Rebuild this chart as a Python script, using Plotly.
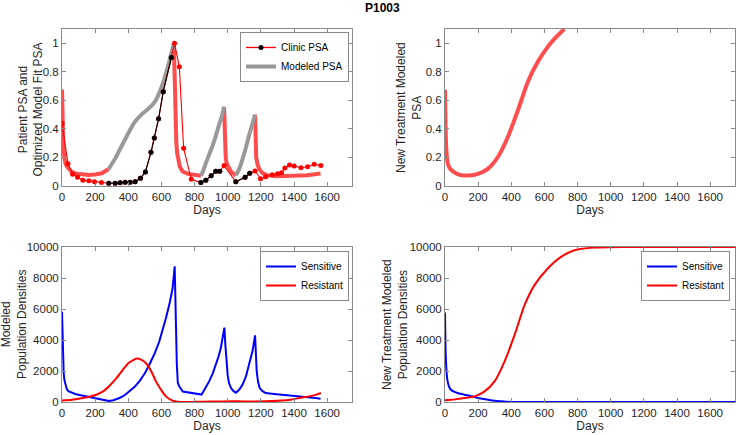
import plotly.graph_objects as go

# ---------------- data ----------------
off_periods = [(280, 675), (838, 978), (1049, 1165)]

clinic_days = [0, 36, 64, 94, 126, 162, 196, 238, 282, 321, 351, 381, 411, 441, 473, 503, 537, 557, 583, 611, 660, 679,
               708, 734, 780, 838, 868, 900, 928, 952, 978, 1049, 1105, 1133, 1165, 1198, 1229, 1269, 1301, 1325,
               1345, 1373, 1401, 1442, 1482, 1522, 1562]
clinic_psa = [0.44, 0.156, 0.083, 0.062, 0.04, 0.036, 0.03, 0.024, 0.019, 0.019, 0.023, 0.026, 0.026, 0.03, 0.054,
              0.098, 0.236, 0.336, 0.472, 0.661, 0.9, 1.0, 0.836, 0.264, 0.047, 0.024, 0.04, 0.072, 0.103, 0.103,
              0.143, 0.03, 0.061, 0.089, 0.105, 0.051, 0.065, 0.079, 0.086, 0.093, 0.126, 0.147, 0.14, 0.128, 0.135,
              0.152, 0.143]

model_days = [0, 4, 8, 14, 20, 30, 40, 60, 80, 120, 160, 200, 240, 280,
              320, 360, 400, 440, 480, 520, 560, 600, 640, 675,
              678, 681, 685, 690, 695, 700, 710, 720, 730, 760, 800, 838,
              850, 868, 888, 908, 928, 948, 965, 978,
              981, 984, 988, 993, 1000, 1020, 1049,
              1070, 1090, 1110, 1130, 1150, 1165,
              1168, 1172, 1180, 1190, 1210, 1240, 1300, 1400, 1480, 1560]
model_psa = [0.675, 0.4, 0.28, 0.2, 0.16, 0.135, 0.12, 0.098, 0.088, 0.08, 0.077, 0.08, 0.089, 0.117,
             0.19, 0.28, 0.37, 0.45, 0.5, 0.54, 0.59, 0.69, 0.84, 1.0,
             0.78, 0.58, 0.42, 0.3, 0.23, 0.19, 0.14, 0.115, 0.1, 0.085, 0.077, 0.072,
             0.1, 0.16, 0.22, 0.28, 0.35, 0.43, 0.49, 0.555,
             0.4, 0.28, 0.2, 0.16, 0.14, 0.1, 0.075,
             0.12, 0.19, 0.27, 0.36, 0.44, 0.5,
             0.3, 0.2, 0.15, 0.12, 0.09, 0.075, 0.068, 0.068, 0.075, 0.088]

new_days = [0, 3, 6, 10, 15, 20, 30, 40, 60, 80, 100, 140, 200, 260, 320, 380, 440, 500, 560, 620, 680, 720]
new_psa = [0.675, 0.42, 0.3, 0.22, 0.17, 0.145, 0.122, 0.11, 0.093, 0.082, 0.076, 0.073, 0.085, 0.122, 0.205,
           0.345, 0.53, 0.73, 0.87, 0.975, 1.055, 1.1]

sens_days = [0, 3, 6, 10, 14, 20, 28, 38, 56, 80, 106, 140, 160, 200, 240, 260, 284, 310, 347, 380, 407, 440, 467,
             500, 527, 560, 587, 610, 627, 650, 667, 680,
             684, 688, 693, 699, 708, 729, 768, 800, 842,
             860, 888, 910, 928, 945, 958, 970, 980,
             985, 992, 1000, 1008, 1020, 1035, 1050,
             1070, 1089, 1110, 1129, 1150, 1165,
             1169, 1175, 1183, 1193, 1210, 1229, 1280, 1329, 1380, 1430, 1480, 1530, 1560]
sens_pop = [5820, 3800, 2700, 1900, 1450, 1100, 860, 700, 600, 520, 450, 380, 350, 270, 190, 140, 60, 110, 260, 450,
            685, 1000, 1330, 1850, 2400, 3150, 3900, 4700, 5400, 6400, 7320, 8750,
            6000, 3470, 2400, 1220, 1000, 680, 600, 540, 480,
            800, 1330, 1850, 2400, 2950, 3470, 4100, 4800,
            3800, 2610, 1700, 1220, 900, 700, 600,
            800, 1110, 1650, 2400, 3300, 4300,
            3000, 1970, 1300, 900, 700, 580, 520, 470, 430, 400, 350, 257, 214]

res_days = [0, 60, 126, 170, 207, 250, 287, 330, 367, 400, 427, 450, 480, 507, 540, 567, 600, 627, 667, 700, 727,
            800, 900, 1028, 1100, 1229, 1300, 1380, 1430, 1490, 1530, 1562]
res_pop = [90, 150, 257, 350, 470, 700, 1050, 1550, 2080, 2500, 2680, 2800, 2720, 2500, 1950, 1330, 750, 364, 86, 20,
           0, 10, 30, 43, 40, 43, 80, 150, 257, 364, 460, 578]

new_sens_days = [0, 3, 8, 14, 20, 28, 40, 58, 80, 118, 160, 199, 230, 259, 300, 339, 370, 400, 600, 1000, 1400, 1750]
new_sens_pop = [5780, 3500, 2180, 1450, 1150, 900, 750, 650, 560, 470, 380, 257, 200, 150, 80, 43, 15, 0, 0, 0, 0, 0]

new_res_days = [0, 60, 118, 179, 239, 299, 359, 420, 480, 540, 620, 700, 781, 901, 1000, 1142, 1400, 1750]
new_res_pop = [107, 170, 257, 364, 685, 1330, 2610, 4330, 6250, 7540, 8610, 9360, 9790, 9960, 9990, 10000, 10000,
               10000]

x_ticks = [0, 200, 400, 600, 800, 1000, 1200, 1400, 1600]
psa_ticks = [0, 0.2, 0.4, 0.6, 0.8, 1]
pop_ticks = [0, 2000, 4000, 6000, 8000, 10000]

y_titles = ["Patient PSA and<br>Optimized Model Fit PSA", "New Treatment Modeled<br>PSA",
            "Modeled<br>Population Densities", "New Treatment Modeled<br>Population Densities"]


def in_off(t, closed):
    for a, b in off_periods:
        if (a <= t <= b) if closed else (a <= t < b):
            return True
    return False


def strictly_off(t):
    return any(a < t < b for a, b in off_periods)


model_on = [None if strictly_off(t) else v for t, v in zip(model_days, model_psa)]
model_off = [v if in_off(t, True) else None for t, v in zip(model_days, model_psa)]
clinic_black = [v if in_off(t, False) else None for t, v in zip(clinic_days, clinic_psa)]

RED_M = "rgba(255,0,0,0.7)"
GRAY = "#999999"
FONT = "Liberation Sans, Arial, sans-serif"
TXT = "#262626"

fig = go.Figure()

# top-left
fig.add_trace(go.Scatter(x=model_days, y=model_on, mode="lines", line=dict(color=RED_M, width=4),
                         connectgaps=False, showlegend=False, xaxis="x", yaxis="y"))
fig.add_trace(go.Scatter(x=model_days, y=model_off, mode="lines",
                         line=dict(color=GRAY, width=4, shape="spline", smoothing=0.5),
                         connectgaps=False, showlegend=False, xaxis="x", yaxis="y"))
fig.add_trace(go.Scatter(x=clinic_days, y=clinic_psa, mode="lines+markers", line=dict(color="#ff0000", width=1.1),
                         marker=dict(color="#ff0000", size=5), showlegend=False, xaxis="x", yaxis="y"))
fig.add_trace(go.Scatter(x=clinic_days, y=clinic_black, mode="lines+markers", line=dict(color="#000000", width=1.1),
                         marker=dict(color="#000000", size=5), connectgaps=False, showlegend=False,
                         xaxis="x", yaxis="y"))
fig.add_trace(go.Scatter(x=[None], y=[None], mode="lines+markers", name="Clinic PSA",
                         line=dict(color="#ff0000", width=1.3), marker=dict(color="#000000", size=5),
                         xaxis="x", yaxis="y", legend="legend"))
fig.add_trace(go.Scatter(x=[None], y=[None], mode="lines", name="Modeled PSA",
                         line=dict(color=GRAY, width=4), xaxis="x", yaxis="y", legend="legend"))

# top-right
fig.add_trace(go.Scatter(x=new_days, y=new_psa, mode="lines",
                         line=dict(color=RED_M, width=4, shape="spline", smoothing=0.6),
                         showlegend=False, xaxis="x2", yaxis="y2"))

# bottom-left
fig.add_trace(go.Scatter(x=sens_days, y=sens_pop, mode="lines", name="Sensitive",
                         line=dict(color="#0000ff", width=2), xaxis="x3", yaxis="y3", legend="legend2"))
fig.add_trace(go.Scatter(x=res_days, y=res_pop, mode="lines", name="Resistant",
                         line=dict(color="#ff0000", width=2, shape="spline", smoothing=0.6),
                         xaxis="x3", yaxis="y3", legend="legend2"))

# bottom-right
fig.add_trace(go.Scatter(x=new_sens_days, y=new_sens_pop, mode="lines", name="Sensitive",
                         line=dict(color="#0000ff", width=2, shape="spline", smoothing=0.5),
                         xaxis="x4", yaxis="y4", legend="legend3"))
fig.add_trace(go.Scatter(x=new_res_days, y=new_res_pop, mode="lines", name="Resistant",
                         line=dict(color="#ff0000", width=2, shape="spline", smoothing=0.6),
                         xaxis="x4", yaxis="y4", legend="legend3"))

W, H = 736, 435


def dx(a, b):
    return [a / W, b / W]


def dy(top, bottom):
    return [1 - bottom / H, 1 - top / H]


axis_common = dict(showline=True, linecolor="#8a8a8a", linewidth=1, mirror="ticks", ticks="inside", ticklen=4,
                   tickcolor="#8a8a8a", showgrid=False, zeroline=False, automargin=False,
                   tickfont=dict(family=FONT, size=11.5, color=TXT))


def xax(dom, anchor):
    return dict(axis_common, domain=dom, anchor=anchor, range=[0, 1750], tickvals=x_ticks,
                title=dict(text="Days", font=dict(family=FONT, size=12, color=TXT), standoff=3))


def yax(dom, anchor, rng, ticks, fmt):
    return dict(axis_common, domain=dom, anchor=anchor, range=rng, tickvals=ticks, tickformat=fmt)


legend_common = dict(bgcolor="white", bordercolor="#8a8a8a", borderwidth=1,
                     font=dict(family=FONT, size=10, color="#000000"), itemwidth=30,
                     xanchor="right", yanchor="top", tracegroupgap=0)


def ytitle(text, xpx, ypx):
    return dict(text=text, x=xpx / W, y=1 - ypx / H, xref="paper", yref="paper", showarrow=False,
                textangle=-90, xanchor="center", yanchor="middle", align="center",
                font=dict(family=FONT, size=12, color=TXT))


fig.update_layout(
    width=W, height=H, margin=dict(l=0, r=0, t=0, b=0, autoexpand=False),
    paper_bgcolor="white", plot_bgcolor="white",
    xaxis=xax(dx(62, 352), "y"),
    yaxis=yax(dy(29, 186), "x", [0, 1.1], psa_ticks, None),
    xaxis2=xax(dx(445, 735), "y2"),
    yaxis2=yax(dy(29, 186), "x2", [0, 1.1], psa_ticks, None),
    xaxis3=xax(dx(62, 352), "y3"),
    yaxis3=yax(dy(247, 402), "x3", [0, 10000], pop_ticks, "d"),
    xaxis4=xax(dx(445, 735), "y4"),
    yaxis4=yax(dy(247, 402), "x4", [0, 10000], pop_ticks, "d"),
    legend=dict(legend_common, x=349 / W, y=1 - 32 / H),
    legend2=dict(legend_common, x=349 / W, y=1 - 251 / H),
    legend3=dict(legend_common, x=730 / W, y=1 - 251 / H),
    annotations=[
        dict(text="<b>P1003</b>", x=382 / W, y=1 - 8 / H, xref="paper", yref="paper", showarrow=False,
             xanchor="center", yanchor="middle", font=dict(family=FONT, size=12, color="#000000")),
        ytitle(y_titles[0], 30.5, 110),
        ytitle(y_titles[1], 409.5, 107.5),
        ytitle(y_titles[2], 13.5, 324.5),
        ytitle(y_titles[3], 394.5, 324.5),
    ],
)

fig.write_html("out.html", config={"displayModeBar": False},
               post_script="document.body.style.margin='0';document.body.style.padding='0';"
                           "document.body.style.overflow='hidden';")
